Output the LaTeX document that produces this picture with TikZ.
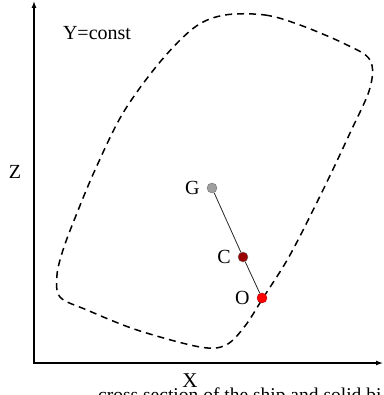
\documentclass[tikz,border=0pt]{standalone}
\usepackage{fontspec}
\setmainfont{Liberation Serif}
\usetikzlibrary{arrows.meta, positioning}

\begin{document}
\begin{tikzpicture}[
  x=1pt, y=-1pt,
  axis/.style={line width=1.3pt, {Latex[length=7pt, width=5pt]}-{Latex[length=7pt, width=5pt]}},
  section/.style={line width=1.5pt, dash pattern=on 7pt off 5pt},
  dot/.style={circle, draw=black!55, line width=0.4pt, inner sep=0pt, minimum size=10pt},
  lbl/.style={font=\fontsize{20}{20}\selectfont, inner sep=0pt},
  link/.style={line width=0.8pt, black!85},
]
\useasboundingbox (0,0) rectangle (383,395);
\clip (0,0) rectangle (383,395);

% axes
\coordinate (orig) at (34,363);
\coordinate (ztop) at (34,1);
\coordinate (xend) at (383,363);
\draw[axis] (ztop) -- (orig) -- (xend);

\node[lbl] (yconst) at (97,33) {Y=const};
\node[lbl] (zlabel) at (15,172) {Z};
\node[lbl, font=\fontsize{21}{21}\selectfont] (xlabel) at (190,381) {X};

% section of the hull
\draw[section] plot[smooth cycle, tension=0.55] coordinates {
  (225,15) (265,15) (300,25) (345,44) (370,60) (370,88) (350,133)
  (323,190) (290,255) (263,298) (245,326) (226,345) (200,347)
  (137,330) (87,310) (60,297) (57,275) (63,250) (75,218) (95,170)
  (123,113) (160,62) (195,27)};

% points
\node[dot, fill=gray!75]           (G) at (212,188) {};
\node[dot, fill=red!60!black]      (C) at (243,257) {};
\node[dot, fill=red, draw=red!70!black] (O) at (262,298) {};
\node[lbl, left=7pt of G] (Glabel) {G};
\node[lbl, left=7pt of C] (Clabel) {C};
\node[lbl, left=7pt of O] (Olabel) {O};

\draw[link] (G) -- (C);
\draw[link] (C) -- (O);

% caption, cut by the frame
\node[lbl, font=\fontsize{19.5}{19.5}\selectfont, anchor=base west] (caption) at (98,401)
  {cross section of the ship and solid bi};
\end{tikzpicture}
\end{document}
